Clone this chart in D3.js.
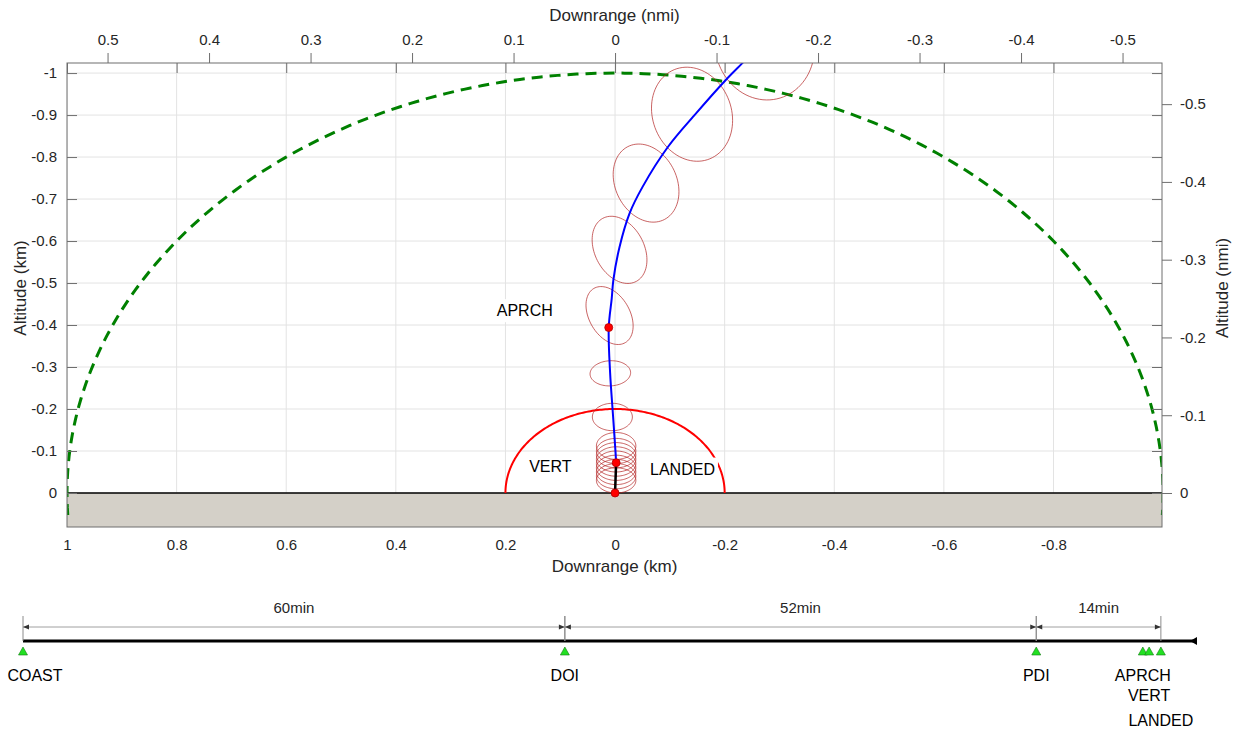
<!DOCTYPE html>
<html>
<head>
<meta charset="utf-8">
<script src="https://cdn.jsdelivr.net/npm/d3@7"></script>
<style>
  body { margin: 0; background: #fff; }
  text { font-family: "Liberation Sans", Arial, Helvetica, sans-serif; fill: #262626; }
</style>
</head>
<body>
<svg id="chart" width="1242" height="729"></svg>
<script>
var NMI = 1.852;

// tick values
var kmTicks = [1, 0.8, 0.6, 0.4, 0.2, 0, -0.2, -0.4, -0.6, -0.8];
var altTicks = [-1, -0.9, -0.8, -0.7, -0.6, -0.5, -0.4, -0.3, -0.2, -0.1, 0];
var nmiXTicks = [0.5, 0.4, 0.3, 0.2, 0.1, 0, -0.1, -0.2, -0.3, -0.4, -0.5];
var nmiYTicks = [-0.5, -0.4, -0.3, -0.2, -0.1, 0];

// trajectory (km downrange, km altitude)
var trajX   = [-0.002, -0.001, 0.004, 0.009, 0.0115, 0.006, 0.0031, -0.0082, -0.0265, -0.0502, -0.0967, -0.1478, -0.2016, -0.2318, -0.2445];
var trajAlt = [-0.072, -0.095, -0.19, -0.286, -0.394, -0.464, -0.507, -0.586, -0.666, -0.729, -0.8245, -0.904, -0.983, -1.023, -1.04];
var vertDropX   = [0, -0.002];
var vertDropAlt = [0, -0.072];

// events
var eventNames = ["APRCH", "VERT", "LANDED"];
var eventX     = [0.0115, -0.002, 0];
var eventAlt   = [-0.394, -0.072, 0];

// dispersion ellipses
var ellX   = [-0.273, -0.1405, -0.0566, -0.0082, 0.010, 0.0086, 0.0049, -0.002, -0.002, -0.002, -0.002, -0.002, -0.002, -0.002, -0.002, -0.002];
var ellAlt = [-1.067, -0.902, -0.738, -0.579, -0.4226, -0.285, -0.181, -0.112, -0.10, -0.09, -0.08, -0.07, -0.06, -0.05, -0.04, -0.03];
var ellHw  = [0.091, 0.074, 0.060, 0.050, 0.043, 0.037, 0.0365, 0.036, 0.036, 0.036, 0.036, 0.036, 0.036, 0.036, 0.036, 0.036];
var ellHh  = [0.131, 0.112, 0.093, 0.080, 0.069, 0.030, 0.0326, 0.032, 0.03, 0.03, 0.03, 0.03, 0.03, 0.03, 0.03, 0.03];
var ellRho = [-0.05, -0.13, -0.22, -0.30, -0.36, 0.05, 0, 0, 0, 0, 0, 0, 0, 0, 0, 0];

// range rings (km)
var outerRing = 1.0;
var innerRing = 0.2;

// timeline (minutes)
var phaseNames = ["COAST", "DOI", "PDI", "APRCH", "VERT", "LANDED"];
var phaseTimes = [0, 60, 112.2, 124.0, 124.7, 126];
var dimFrom = ["COAST", "DOI", "PDI"];
var dimTo   = ["DOI", "PDI", "LANDED"];
var timelineEnd = 130;

var svg = d3.select("#chart");
svg.append("rect").attr("width", 1242).attr("height", 729).attr("fill", "#fff");

var L = 67, R = 1162, T = 63, B = 527;
var x  = d3.scaleLinear().domain([1, -0.998]).range([L, R]);
var y  = d3.scaleLinear().domain([-1.024, 0.081]).range([T, B]);
var xn = d3.scaleLinear().domain([1 / NMI, -0.998 / NMI]).range([L, R]);
var yn = d3.scaleLinear().domain([-1.024 / NMI, 0.081 / NMI]).range([T, B]);

var fmt = function(d) { return String(+d.toFixed(2)); };

svg.append("defs").append("clipPath").attr("id", "plotclip")
  .append("rect").attr("x", L).attr("y", T).attr("width", R - L).attr("height", B - T);

var plot = svg.append("g").attr("clip-path", "url(#plotclip)");

// grid
plot.selectAll(".vg").data(kmTicks).enter().append("line")
  .attr("x1", function(d) { return x(d); }).attr("x2", function(d) { return x(d); })
  .attr("y1", T).attr("y2", B).attr("stroke", "#e3e3e3").attr("stroke-width", 1);
plot.selectAll(".hg").data(altTicks).enter().append("line")
  .attr("y1", function(d) { return y(d); }).attr("y2", function(d) { return y(d); })
  .attr("x1", L).attr("x2", R).attr("stroke", "#e3e3e3").attr("stroke-width", 1);

// ground
plot.append("rect").attr("x", L).attr("y", y(0)).attr("width", R - L).attr("height", B - y(0))
  .attr("fill", "#d4d0c8");
plot.append("line").attr("x1", L).attr("x2", R).attr("y1", y(0)).attr("y2", y(0))
  .attr("stroke", "#000").attr("stroke-width", 1.3);

var ringLine = d3.line().x(function(p) { return x(p[0]); }).y(function(p) { return y(p[1]); });
function ring(r, a0, a1) {
  return d3.range(a0, a1 + 0.01, 1).map(function(a) {
    var t = a * Math.PI / 180;
    return [r * Math.cos(t), -r * Math.sin(t)];
  });
}

// outer ring (green dashed)
plot.append("path").attr("d", ringLine(ring(outerRing, -3, 183)))
  .attr("fill", "none").attr("stroke", "#008000").attr("stroke-width", 3)
  .attr("stroke-dasharray", "11,7");

// inner ring (red)
plot.append("path").attr("d", ringLine(ring(innerRing, 0, 180)))
  .attr("fill", "none").attr("stroke", "#ff0000").attr("stroke-width", 2);

// ellipses
var ellLine = d3.line().x(function(p) { return x(p[0]); }).y(function(p) { return y(p[1]); })
  .curve(d3.curveLinearClosed);
ellX.forEach(function(cx, i) {
  var pts = d3.range(0, 360, 4).map(function(a) {
    var t = a * Math.PI / 180;
    var r = ellRho[i];
    return [cx + ellHw[i] * Math.cos(t),
            ellAlt[i] + ellHh[i] * (r * Math.cos(t) + Math.sqrt(1 - r * r) * Math.sin(t))];
  });
  plot.append("path").attr("d", ellLine(pts))
    .attr("fill", "none").attr("stroke", "#b22222").attr("stroke-opacity", 0.7).attr("stroke-width", 1);
});

// trajectory
var traj = trajX.map(function(d, i) { return [d, trajAlt[i]]; });
plot.append("path")
  .attr("d", d3.line().x(function(p) { return x(p[0]); }).y(function(p) { return y(p[1]); })
    .curve(d3.curveCatmullRom)(traj))
  .attr("fill", "none").attr("stroke", "#0000ff").attr("stroke-width", 2);
plot.append("path")
  .attr("d", ringLine(vertDropX.map(function(d, i) { return [d, vertDropAlt[i]]; })))
  .attr("fill", "none").attr("stroke", "#000").attr("stroke-width", 2.5);

// event labels (with white backgrounds, like the original)
var labelOffset = { APRCH: [-112, -17], VERT: [-87, 4], LANDED: [35, -24] };
eventNames.forEach(function(name, i) {
  var px = x(eventX[i]) + labelOffset[name][0];
  var py = y(eventAlt[i]) + labelOffset[name][1];
  var g = plot.append("g");
  var bg = g.append("rect").attr("fill", "#fff");
  var t = g.append("text").attr("x", px).attr("y", py).attr("dy", "0.35em")
    .attr("font-size", 16).style("fill", "#000").text(name);
  var bb = t.node().getBBox();
  bg.attr("x", bb.x - 3).attr("y", bb.y - 3).attr("width", bb.width + 6).attr("height", bb.height + 6);
});

// event dots
plot.selectAll(".dot").data(eventNames).enter().append("circle")
  .attr("cx", function(d, i) { return x(eventX[i]); })
  .attr("cy", function(d, i) { return y(eventAlt[i]); })
  .attr("r", 4).attr("fill", "#ff0000").attr("stroke", "#b00000").attr("stroke-width", 0.8);

// box
svg.append("rect").attr("x", L).attr("y", T).attr("width", R - L).attr("height", B - T)
  .attr("fill", "none").attr("stroke", "#6e6e6e").attr("stroke-width", 1);

function styleAxis(g) {
  g.select(".domain").remove();
  g.selectAll(".tick line").attr("stroke", "#6e6e6e");
  g.selectAll(".tick text").attr("font-size", 15).style("fill", "#262626")
    .attr("font-family", "Liberation Sans, Arial, sans-serif");
}

svg.append("g").attr("transform", "translate(" + L + ",0)")
  .call(d3.axisLeft(y).tickValues(altTicks).tickFormat(fmt).tickSize(-10).tickPadding(10)).call(styleAxis);
svg.append("g").attr("transform", "translate(0," + T + ")")
  .call(d3.axisTop(x).tickValues(kmTicks).tickFormat("").tickSize(-10)).call(styleAxis);
svg.append("g").attr("transform", "translate(" + R + ",0)")
  .call(d3.axisRight(y).tickValues(altTicks).tickFormat("").tickSize(-10)).call(styleAxis);
svg.append("g").attr("transform", "translate(0," + T + ")")
  .call(d3.axisTop(xn).tickValues(nmiXTicks).tickFormat(fmt).tickSize(10).tickPadding(8)).call(styleAxis);
svg.append("g").attr("transform", "translate(" + R + ",0)")
  .call(d3.axisRight(yn).tickValues(nmiYTicks).tickFormat(fmt).tickSize(10).tickPadding(8)).call(styleAxis);
svg.append("g").attr("transform", "translate(0," + B + ")")
  .call(d3.axisBottom(x).tickValues(kmTicks).tickFormat(fmt).tickSize(0).tickPadding(12)).call(styleAxis);

// axis titles
svg.append("text").attr("x", (L + R) / 2).attr("y", 21).attr("text-anchor", "middle")
  .attr("font-size", 17).text("Downrange (nmi)");
svg.append("text").attr("x", (L + R) / 2).attr("y", 572).attr("text-anchor", "middle")
  .attr("font-size", 17).text("Downrange (km)");
svg.append("text").attr("transform", "translate(26,288) rotate(-90)").attr("text-anchor", "middle")
  .attr("font-size", 17).text("Altitude (km)");
svg.append("text").attr("transform", "translate(1228,288) rotate(-90)").attr("text-anchor", "middle")
  .attr("font-size", 17).text("Altitude (nmi)");

// ---- timeline ----
var tx = d3.scaleLinear().domain([0, timelineEnd]).range([23, 1197]);
var tl = svg.append("g");
var lineY = 641, dimY = 627;
function tOf(name) { return phaseTimes[phaseNames.indexOf(name)]; }

tl.append("line").attr("x1", tx(0)).attr("x2", tx(timelineEnd)).attr("y1", lineY).attr("y2", lineY)
  .attr("stroke", "#000").attr("stroke-width", 3);
tl.append("path")
  .attr("d", "M" + (tx(timelineEnd) - 7) + "," + lineY + "L" + tx(timelineEnd) + "," + (lineY - 4) +
             "L" + tx(timelineEnd) + "," + (lineY + 4) + "Z")
  .attr("fill", "#000");

dimFrom.forEach(function(f, i) {
  var x0 = tx(tOf(f)), x1 = tx(tOf(dimTo[i]));
  [x0, x1].forEach(function(xx) {
    tl.append("line").attr("x1", xx).attr("x2", xx).attr("y1", dimY - 11).attr("y2", lineY)
      .attr("stroke", "#8c8c8c").attr("stroke-width", 1);
  });
  tl.append("line").attr("x1", x0).attr("x2", x1).attr("y1", dimY).attr("y2", dimY)
    .attr("stroke", "#a0a0a0").attr("stroke-width", 1);
  tl.append("path").attr("d", "M" + x0 + "," + dimY + "l6,-2.5l0,5Z").attr("fill", "#333");
  tl.append("path").attr("d", "M" + x1 + "," + dimY + "l-6,-2.5l0,5Z").attr("fill", "#333");
  tl.append("text").attr("x", (x0 + x1) / 2).attr("y", dimY - 14).attr("text-anchor", "middle")
    .attr("font-size", 15).text(Math.round(tOf(dimTo[i]) - tOf(f)) + "min");
});

var rowOffsets = [0, 20, 45];
var row = 0, prevX = -1000;
phaseNames.forEach(function(name, i) {
  var xx = tx(phaseTimes[i]);
  row = (xx - prevX < 40) ? row + 1 : 0;
  prevX = xx;
  tl.append("path")
    .attr("d", "M" + (xx - 4.5) + "," + (lineY + 14) + "L" + xx + "," + (lineY + 6) + "L" + (xx + 4.5) + "," + (lineY + 14) + "Z")
    .attr("fill", "#22e022").attr("stroke", "#137a13").attr("stroke-width", 0.6);
  tl.append("text").attr("x", name === "COAST" ? xx + 12 : xx).attr("y", 681 + rowOffsets[row])
    .attr("text-anchor", "middle").attr("font-size", 16).style("fill", "#000").text(name);
});
</script>
</body>
</html>
